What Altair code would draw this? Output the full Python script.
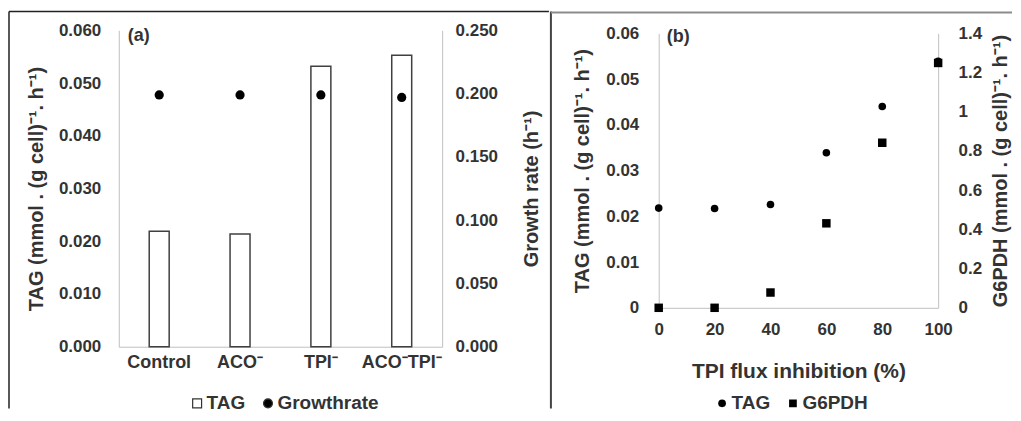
import altair as alt
import pandas as pd

# ---------------- data ----------------
categories = ["Control", "ACO⁻", "TPI⁻", "ACO⁻TPI⁻"]
tag_a = [0.0219, 0.0214, 0.0532, 0.0553]
growth_a = [0.199, 0.199, 0.199, 0.197]

inhibition = [0, 20, 40, 60, 80, 100]
tag_b = [0.0218, 0.0217, 0.0226, 0.0339, 0.0440, 0.0539]
g6pdh_b = [0.0, 0.0, 0.078, 0.431, 0.842, 1.249]

left_ticks_a = [0.0, 0.01, 0.02, 0.03, 0.04, 0.05, 0.06]
right_ticks_a = [0.0, 0.05, 0.10, 0.15, 0.20, 0.25]
left_ticks_b = [0.0, 0.01, 0.02, 0.03, 0.04, 0.05, 0.06]
right_ticks_b = [0.0, 0.2, 0.4, 0.6, 0.8, 1.0, 1.2, 1.4]
x_ticks_b = [0, 20, 40, 60, 80, 100]

series_a = ["TAG", "Growthrate"]
series_b = ["TAG", "G6PDH"]

FONT = "Liberation Sans"
TXT = "#333333"
FRAME = "#c0c0c0"
FS = 17        # tick labels
FS_CAT = 18    # category labels
FS_TITLE = 20  # y axis titles
FS_XT = 21     # x axis title
FS_LEG = 19    # legend labels

df_a = pd.DataFrame({"cat": categories, "tag": tag_a, "growth": growth_a})
df_b = pd.DataFrame({"inh": inhibition, "tag": tag_b, "g6": g6pdh_b})
one = pd.DataFrame({"k": [0]})

# ---------------- panel (a) ----------------
W_A, H_A = 324, 317
legend_a = alt.Legend(
    orient="none", legendX=69, legendY=364, direction="horizontal", title=None,
    labelFont=FONT, labelFontSize=FS_LEG, labelFontWeight="bold", labelColor=TXT,
    symbolSize=80, symbolStrokeColor="#333333", symbolStrokeWidth=1.2,
    columnPadding=13, labelOffset=0,
)
fill_a = alt.Scale(domain=series_a, range=["white", "black"])
shape_a = alt.Scale(domain=series_a, range=["square", "circle"])

x_a = alt.X("cat:N", sort=categories,
            scale=alt.Scale(paddingInner=0, paddingOuter=0),
            axis=alt.Axis(title=None, labelAngle=0, labelPadding=7,
                          labelFontSize=FS_CAT))

bars = alt.Chart(df_a).transform_calculate(series="'TAG'").mark_bar(
    size=20, stroke="#404040", strokeWidth=1.5
).encode(
    x=x_a,
    y=alt.Y("tag:Q", scale=alt.Scale(domain=[0, 0.06]),
            axis=alt.Axis(orient="left", values=left_ticks_a, format=".3f",
                          title="TAG (mmol . (g cell)⁻¹. h⁻¹)",
                          labelPadding=18, titlePadding=12)),
    fill=alt.Fill("series:N", scale=fill_a, legend=legend_a),
)

dots = alt.Chart(df_a).transform_calculate(series="'Growthrate'").mark_point(
    filled=True, size=85, opacity=1
).encode(
    x=x_a,
    y=alt.Y("growth:Q", scale=alt.Scale(domain=[0, 0.25]),
            axis=alt.Axis(orient="right", values=right_ticks_a, format=".3f",
                          title="Growth rate (h⁻¹)", titleAngle=270,
                          titleBaseline="top",
                          labelPadding=13, titlePadding=24)),
    fill=alt.Fill("series:N", scale=fill_a, legend=legend_a),
    shape=alt.Shape("series:N", scale=shape_a, legend=legend_a),
)

border_left_a = alt.Chart(one).mark_rule(color="#222222", strokeWidth=1.5, clip=False).encode(
    x=alt.value(-110), y=alt.value(-19), y2=alt.value(379))
border_top_a = alt.Chart(one).mark_rule(color="#222222", strokeWidth=1.5, clip=False).encode(
    x=alt.value(-110), x2=alt.value(431), y=alt.value(-19))
label_a = alt.Chart(one).mark_text(
    text="(a)", font=FONT, fontSize=18, fontWeight="bold", color=TXT,
    align="left", baseline="middle"
).encode(x=alt.value(9), y=alt.value(6))

panel_a = alt.layer(bars, dots, border_left_a, border_top_a, label_a).resolve_scale(
    y="independent").properties(width=W_A, height=H_A)

# ---------------- panel (b) ----------------
W_B, H_B = 280, 278
legend_b = alt.Legend(
    orient="none", legendX=54, legendY=364, direction="horizontal", title=None,
    labelFont=FONT, labelFontSize=FS_LEG, labelFontWeight="bold", labelColor=TXT,
    symbolSize=60, symbolFillColor="black", symbolStrokeWidth=0,
    columnPadding=13, labelOffset=0,
)
shape_b = alt.Scale(domain=series_b, range=["circle", "square"])

x_b = alt.X("inh:Q", scale=alt.Scale(domain=[0, 100], nice=False),
            axis=alt.Axis(values=x_ticks_b, title="TPI flux inhibition (%)",
                          labelFlush=False, titleFontSize=FS_XT,
                          labelPadding=14, titlePadding=23))

pts_g6 = alt.Chart(df_b).transform_calculate(series="'G6PDH'").mark_point(
    filled=True, size=72, color="black", opacity=1
).encode(
    x=x_b,
    y=alt.Y("g6:Q", scale=alt.Scale(domain=[0, 1.4], range=[H_B, 3]),
            axis=alt.Axis(orient="right", values=right_ticks_b, format="~g",
                          title="G6PDH (mmol . (g cell)⁻¹. h⁻¹)", titleAngle=270,
                          titleBaseline="top",
                          labelPadding=20, titlePadding=9)),
    shape=alt.Shape("series:N", scale=shape_b, legend=legend_b),
)

pts_tag = alt.Chart(df_b).transform_calculate(series="'TAG'").mark_point(
    filled=True, size=58, color="black", opacity=1
).encode(
    x=x_b,
    y=alt.Y("tag:Q", scale=alt.Scale(domain=[0, 0.06], range=[H_B, 3]),
            axis=alt.Axis(orient="left", values=left_ticks_b, format="~g",
                          title="TAG (mmol . (g cell)⁻¹. h⁻¹)",
                          labelPadding=20, titlePadding=13)),
    shape=alt.Shape("series:N", scale=shape_b, legend=legend_b),
)

divider_b = alt.Chart(one).mark_rule(color="#444444", strokeWidth=2, clip=False).encode(
    x=alt.value(-108), y=alt.value(-19), y2=alt.value(379))
border_top_b = alt.Chart(one).mark_rule(color="#8c8c8c", strokeWidth=2, clip=False).encode(
    x=alt.value(-108), x2=alt.value(354), y=alt.value(-18))
label_b = alt.Chart(one).mark_text(
    text="(b)", font=FONT, fontSize=18, fontWeight="bold", color=TXT,
    align="left", baseline="middle"
).encode(x=alt.value(8), y=alt.value(7))

panel_b = alt.layer(pts_tag, pts_g6, divider_b, border_top_b, label_b).resolve_scale(
    y="independent").properties(width=W_B, height=H_B)

# ---------------- combine ----------------
chart = alt.hconcat(panel_a, panel_b, spacing=0).resolve_scale(
    fill="independent", shape="independent"
).properties(
    padding={"left": 0, "top": 2, "right": 0, "bottom": 0}
).configure_view(stroke=None).configure_axis(
    labelFont=FONT, labelFontSize=FS, labelFontWeight="bold", labelColor=TXT,
    titleFont=FONT, titleFontSize=FS_TITLE, titleFontWeight="bold", titleColor=TXT,
    ticks=False, tickSize=0, grid=False, domainColor=FRAME, domainWidth=1,
)

chart.save("out.html", embed_options={"renderer": "svg", "actions": False})
